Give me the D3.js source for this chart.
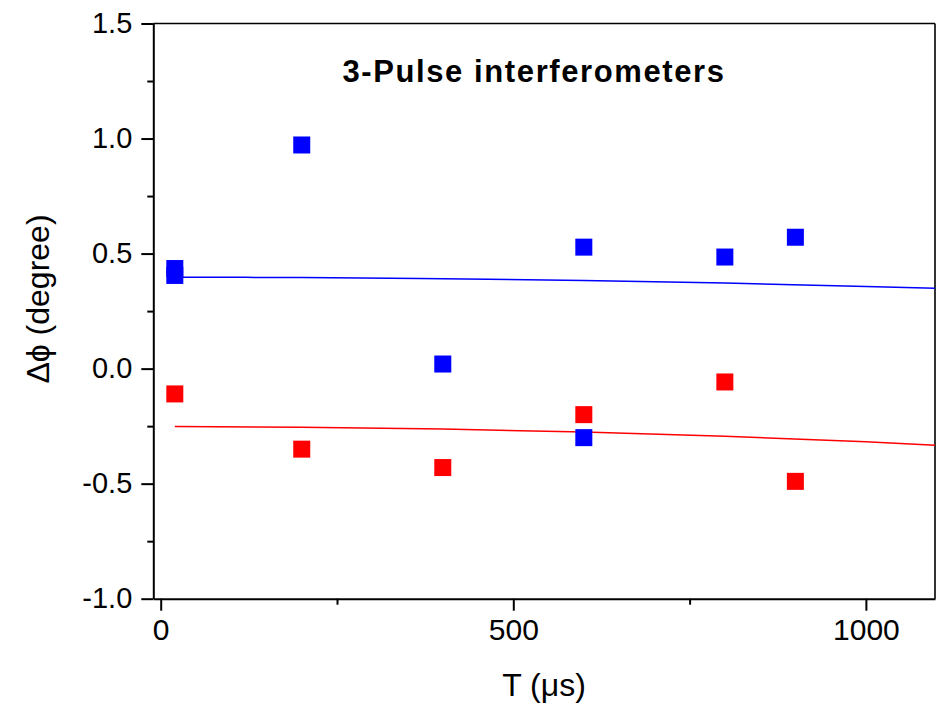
<!DOCTYPE html>
<html>
<head>
<meta charset="utf-8">
<script src="https://cdn.jsdelivr.net/npm/d3@7"></script>
<style>
  html, body { margin: 0; padding: 0; background: #fff; }
  svg { display: block; }
  text { font-family: "Liberation Sans", Arial, sans-serif; fill: #000; }
</style>
</head>
<body>
<svg id="chart" width="936" height="704"></svg>
<script>
// ---- data ----
const title = "3-Pulse interferometers";
const xLabel = "T (\u03bcs)";
const yLabel = "\u0394\u03d5 (degree)";

const blueT    = [20, 20, 200, 400, 600, 600, 800, 900];
const blueDphi = [0.435, 0.405, 0.972, 0.02, 0.528, -0.30, 0.485, 0.571];
const redT     = [20, 200, 400, 600, 800, 900];
const redDphi  = [-0.11, -0.35, -0.43, -0.20, -0.058, -0.49];

const fitT     = [20, 200, 400, 600, 800, 1000, 1098];
const blueFit  = [0.397, 0.396, 0.391, 0.383, 0.372, 0.357, 0.349];
const redFit   = [-0.252, -0.255, -0.262, -0.276, -0.294, -0.318, -0.333];

const xMajorTicks = [0, 500, 1000];
const xMinorTicks = [250, 750];
const yMajorTicks = [-1.0, -0.5, 0.0, 0.5, 1.0, 1.5];
const yMinorTicks = [-0.75, -0.25, 0.25, 0.75, 1.25];

// ---- layout ----
const svg = d3.select("#chart");
const pLeft = 153.3, pRight = 935, pTop = 23.5, pBottom = 598.7;

const x = d3.scaleLinear().domain([-10.5, 1098]).range([pLeft, pRight]);
const y = d3.scaleLinear().domain([-1.0, 1.5]).range([pBottom, pTop]);

const blue = "#0000ff", red = "#ff0000";
const FONT = "Liberation Sans, Arial, sans-serif";

// frame (top & right)
svg.append("line").attr("x1", pLeft).attr("x2", pRight).attr("y1", pTop).attr("y2", pTop)
  .attr("stroke", "#000").attr("stroke-width", 1.6);
svg.append("line").attr("x1", pRight).attr("x2", pRight).attr("y1", pTop).attr("y2", pBottom)
  .attr("stroke", "#000").attr("stroke-width", 1.6);

// x axis
const xAxis = d3.axisBottom(x).tickValues(xMajorTicks).tickSize(12).tickSizeOuter(0)
  .tickFormat(d3.format("d")).tickPadding(8);
const gx = svg.append("g").attr("transform", `translate(0,${pBottom})`).call(xAxis);
gx.select(".domain").attr("stroke-width", 2);
gx.selectAll(".tick line").attr("stroke-width", 2);
gx.selectAll("text").attr("font-size", 30).attr("font-family", FONT);
const gxm = svg.append("g").attr("transform", `translate(0,${pBottom})`)
  .call(d3.axisBottom(x).tickValues(xMinorTicks).tickSize(6).tickSizeOuter(0).tickFormat(""));
gxm.select(".domain").remove();
gxm.selectAll(".tick line").attr("stroke-width", 2);

// y axis
const yAxis = d3.axisLeft(y).tickValues(yMajorTicks).tickSize(12).tickSizeOuter(0)
  .tickFormat(d => d3.format(".1f")(d).replace("\u2212", "-")).tickPadding(9);
const gy = svg.append("g").attr("transform", `translate(${pLeft},0)`).call(yAxis);
gy.select(".domain").attr("stroke-width", 2);
gy.selectAll(".tick line").attr("stroke-width", 2);
gy.selectAll("text").attr("font-size", 29).attr("font-family", FONT);
const gym = svg.append("g").attr("transform", `translate(${pLeft},0)`)
  .call(d3.axisLeft(y).tickValues(yMinorTicks).tickSize(6).tickSizeOuter(0).tickFormat(""));
gym.select(".domain").remove();
gym.selectAll(".tick line").attr("stroke-width", 2);

// fit lines
const line = d3.line().x(d => x(d[0])).y(d => y(d[1])).curve(d3.curveMonotoneX);
svg.append("path").datum(fitT.map((t, i) => [t, blueFit[i]]))
  .attr("d", line).attr("fill", "none").attr("stroke", blue).attr("stroke-width", 1.5);
svg.append("path").datum(fitT.map((t, i) => [t, redFit[i]]))
  .attr("d", line).attr("fill", "none").attr("stroke", red).attr("stroke-width", 1.5);

// markers
const ms = 17;
svg.append("g").selectAll("rect").data(blueT.map((t, i) => [t, blueDphi[i]])).join("rect")
  .attr("x", d => x(d[0]) - ms / 2).attr("y", d => y(d[1]) - ms / 2)
  .attr("width", ms).attr("height", ms).attr("fill", blue);
svg.append("g").selectAll("rect").data(redT.map((t, i) => [t, redDphi[i]])).join("rect")
  .attr("x", d => x(d[0]) - ms / 2).attr("y", d => y(d[1]) - ms / 2)
  .attr("width", ms).attr("height", ms).attr("fill", red);

// title
svg.append("text").attr("x", 534).attr("y", 82).attr("text-anchor", "middle")
  .attr("font-family", FONT).attr("font-size", 31).attr("font-weight", "bold")
  .attr("letter-spacing", 1.6).text(title);

// axis labels
svg.append("text").attr("x", 544).attr("y", 696).attr("text-anchor", "middle")
  .attr("font-family", FONT).attr("font-size", 32).text(xLabel);
svg.append("text").attr("transform", "translate(49,299) rotate(-90)")
  .attr("text-anchor", "middle").attr("font-family", FONT).attr("font-size", 32).text(yLabel);
</script>
</body>
</html>
